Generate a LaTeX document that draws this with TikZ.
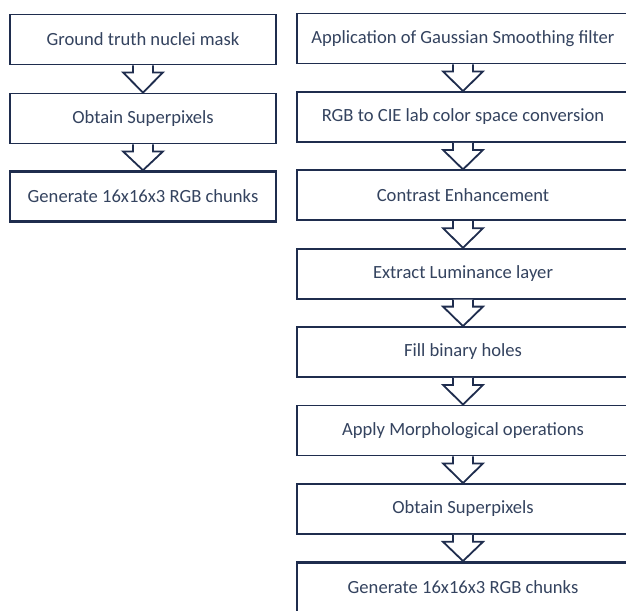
\documentclass[tikz,border=0pt]{standalone}
\usepackage{fontspec}
\setmainfont{Carlito}
\usepackage{tikz}
\usetikzlibrary{calc}
\definecolor{boxline}{HTML}{1F2D4E}
\definecolor{boxtext}{HTML}{34435F}

\tikzset{
  stage/.style={draw=boxline, line width=1.8pt, fill=white, rectangle,
    minimum width=266pt, minimum height=50pt, inner sep=0pt,
    text=boxtext, font=\fontsize{18.6}{22}\selectfont},
  widestage/.style={stage, minimum width=332pt},
  laststage/.style={line width=2.5pt},
  flowarrow/.style={draw=boxline, line width=1.8pt, fill=white, line join=miter}
}
% open block arrow from the bottom of one box to the top of the next
\newcommand{\blockarrow}[2]{%
  \draw[flowarrow] ($(#1.south)+(-10,0)$) -- ($(#1.south)+(-10,7)$)
    -- ($(#1.south)+(-20,7)$) -- (#2.north) -- ($(#1.south)+(20,7)$)
    -- ($(#1.south)+(10,7)$) -- ($(#1.south)+(10,0)$);}

\begin{document}
\begin{tikzpicture}[x=1pt,y=-1pt]
      \useasboundingbox (0,0) rectangle (626,610);
      \clip (0,0) rectangle (626,610);
      % ground truth branch
      \node (G1) at (143,39.5)  [stage] {Ground truth nuclei mask};
      \node (G2) at (143,118.5) [stage] {Obtain Superpixels};
      \node (G3) at (143,196.5) [stage, laststage] {Generate 16x16x3 RGB chunks};
      % image branch
      \node (P1) at (463,38.5)  [widestage] {Application of Gaussian Smoothing filter};
      \node (P2) at (463,117)   [widestage] {RGB to CIE lab color space conversion};
      \node (P3) at (463,195.3) [widestage] {Contrast Enhancement};
      \node (P4) at (463,273.7) [widestage] {Extract Luminance layer};
      \node (P5) at (463,352)   [widestage] {Fill binary holes};
      \node (P6) at (463,430.5) [widestage] {Apply Morphological operations};
      \node (P7) at (463,508.9) [widestage] {Obtain Superpixels};
      \node (P8) at (463,587.3) [widestage, laststage] {Generate 16x16x3 RGB chunks};
      \blockarrow{G1}{G2} \blockarrow{G2}{G3}
      \blockarrow{P1}{P2} \blockarrow{P2}{P3} \blockarrow{P3}{P4}
      \blockarrow{P4}{P5} \blockarrow{P5}{P6} \blockarrow{P6}{P7}
      \blockarrow{P7}{P8}
    \end{tikzpicture}
\end{document}
